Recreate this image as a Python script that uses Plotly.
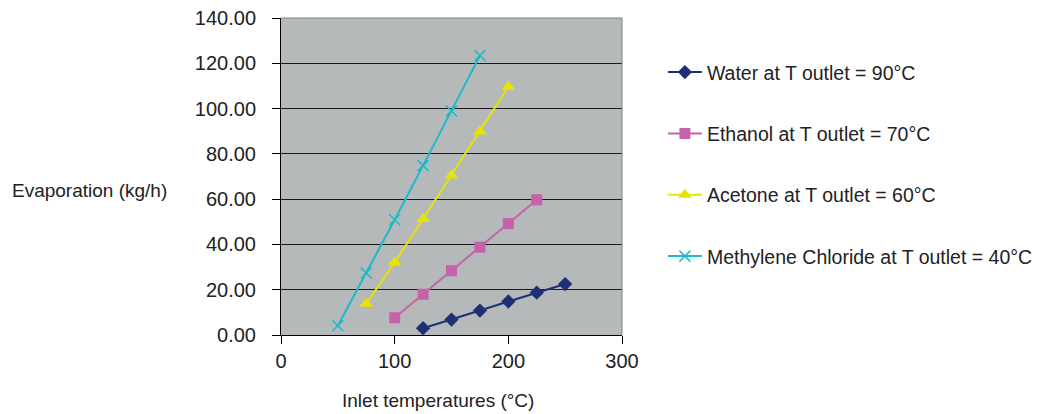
import plotly.graph_objects as go

water_x = [125, 150, 175, 200, 225, 250]
water_y = [3.0, 6.8, 10.8, 14.8, 18.7, 22.5]
ethanol_x = [100, 125, 150, 175, 200, 225]
ethanol_y = [7.6, 18.0, 28.4, 38.8, 49.2, 59.7]
acetone_x = [75, 100, 125, 150, 175, 200]
acetone_y = [13.8, 32.0, 51.2, 70.5, 89.9, 109.6]
mc_x = [50, 75, 100, 125, 150, 175]
mc_y = [4.1, 27.4, 50.9, 74.8, 98.9, 123.4]

names = ["Water at T outlet = 90°C", "Ethanol at T outlet = 70°C",
         "Acetone at T outlet = 60°C", "Methylene Chloride at T outlet = 40°C"]

FONT = "Liberation Sans, Arial, Helvetica, sans-serif"
TXT = "#222222"

fig = go.Figure()
fig.add_trace(go.Scatter(x=water_x, y=water_y, name=names[0], mode="lines+markers",
                         line=dict(color="#1f2f75", width=2),
                         marker=dict(symbol="diamond", size=11, color="#1f2f75"),
                         legendgroup="a"))
fig.add_trace(go.Scatter(x=ethanol_x, y=ethanol_y, name=names[1], mode="lines+markers",
                         line=dict(color="#c462aa", width=2),
                         marker=dict(symbol="square", size=11, color="#c462aa"),
                         legendgroup="b"))
fig.add_trace(go.Scatter(x=acetone_x, y=acetone_y, name=names[2], mode="lines+markers",
                         line=dict(color="#e8e500", width=2),
                         marker=dict(symbol="triangle-up", size=12, color="#e8e500"),
                         legendgroup="c"))
fig.add_trace(go.Scatter(x=mc_x, y=mc_y, name=names[3], mode="lines+markers",
                         line=dict(color="#1ab9cc", width=2),
                         marker=dict(symbol="x-thin", size=11, color="#1ab9cc",
                                     line=dict(color="#1ab9cc", width=1.5)),
                         legendgroup="d"))

fig.update_layout(
    width=1039, height=406,
    margin=dict(l=273, r=425, t=10, b=79, autoexpand=False),
    paper_bgcolor="white",
    plot_bgcolor="#b5b9ba",
    font=dict(family=FONT, size=20, color=TXT),
    showlegend=True,
    legend=dict(x=1.12, xanchor="left", y=0.89, yanchor="top",
                traceorder="grouped", tracegroupgap=33,
                font=dict(family=FONT, size=19.5, color=TXT),
                bgcolor="rgba(0,0,0,0)", itemwidth=34),
    xaxis=dict(range=[0, 300], tickvals=[0, 100, 200, 300], ticks="outside",
               ticklen=8, tickcolor="black", showline=True, linecolor="black",
               linewidth=1, showgrid=False, zeroline=False, automargin=False,
               ticklabelstandoff=0, ticklabeloverflow="allow",
               tickfont=dict(size=20)),
    yaxis=dict(range=[0, 140], tickvals=[0, 20, 40, 60, 80, 100, 120, 140],
               tickformat=".2f", ticks="outside", ticklen=8, tickcolor="black",
               showline=True, linecolor="black", linewidth=1, automargin=False,
               showgrid=True, gridcolor="#1a1a1a", gridwidth=1, zeroline=False,
               ticklabelstandoff=12, ticklabeloverflow="allow",
               tickfont=dict(size=20)),
    shapes=[
        dict(type="line", xref="paper", yref="paper", x0=0, x1=1, y0=1, y1=1,
             line=dict(color="#808080", width=1)),
        dict(type="line", xref="paper", yref="paper", x0=1, x1=1, y0=0, y1=1,
             line=dict(color="#808080", width=1)),
    ],
    annotations=[
        dict(text="Evaporation (kg/h)", xref="paper", yref="paper",
             x=-0.795, y=0.457, xanchor="left", yanchor="middle", showarrow=False,
             font=dict(family=FONT, size=19, color=TXT)),
        dict(text="Inlet temperatures (°C)", xref="paper", yref="paper",
             x=0.46, y=-0.208, xanchor="center", yanchor="middle", showarrow=False,
             font=dict(family=FONT, size=19, color=TXT)),
    ],
)

fig.write_html("out.html")
